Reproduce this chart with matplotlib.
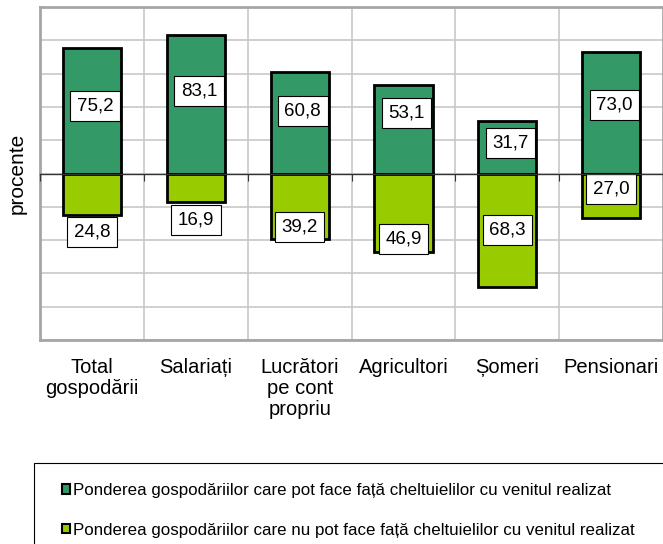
import matplotlib
matplotlib.use('Agg')
import matplotlib.pyplot as plt
from matplotlib.patches import Patch, Rectangle
import numpy as np

plt.rcParams['font.family'] = ['Liberation Sans', 'DejaVu Sans']

categories = ['Total\ngospodării', 'Salariați', 'Lucrători\npe cont\npropriu',
              'Agricultori', 'Șomeri', 'Pensionari']
can_pay = [75.2, 83.1, 60.8, 53.1, 31.7, 73.0]
cannot_pay = [24.8, 16.9, 39.2, 46.9, 68.3, 27.0]

legend_labels = ['Ponderea gospodăriilor care pot face față cheltuielilor cu venitul realizat',
                 'Ponderea gospodăriilor care nu pot face față cheltuielilor cu venitul realizat']

# where the value boxes sit (as in the original, moved by hand)
pos_label_y = [40.7, 49.7, 37.7, 36.5, 18.6, 41.3]
neg_label_y = [-35.3, -28.0, -32.0, -39.5, -34.0, -9.0]

dark = '#339966'
light = '#99cc00'

fig = plt.figure(figsize=(6.63, 5.44), dpi=100)
ax = fig.add_axes([0.0603, 0.375, 0.94, 0.612])

x = np.arange(len(categories))
ax.bar(x, can_pay, width=0.56, color=dark, edgecolor='black', linewidth=2, zorder=3)
ax.bar(x, [-v for v in cannot_pay], width=0.56, color=light, edgecolor='black', linewidth=2, zorder=3)

box = dict(boxstyle='square,pad=0.35', fc='white', ec='black', lw=0.8)
for i in range(len(categories)):
    ax.text(x[i] + 0.03, pos_label_y[i], f'{can_pay[i]:.1f}'.replace('.', ','),
            ha='center', va='center', fontsize=13.5, bbox=box, zorder=5)
    ax.text(x[i], neg_label_y[i], f'{cannot_pay[i]:.1f}'.replace('.', ','),
            ha='center', va='center', fontsize=13.5, bbox=box, zorder=5)

ax.set_xlim(-0.5, len(categories) - 0.5)
ax.set_ylim(-100, 100)
ax.set_yticks(np.arange(-100, 101, 20))
ax.set_yticklabels([])
ax.tick_params(axis='y', length=0)
ax.set_xticks(x)
ax.set_xticklabels(categories, fontsize=14.5, linespacing=1.12)
ax.tick_params(axis='x', length=0, pad=13)
ax.set_xticks(x[:-1] + 0.5, minor=True)
ax.tick_params(axis='x', which='minor', length=0)
ax.grid(axis='y', color='#c8c8c8', lw=1.2, zorder=0)
ax.grid(axis='x', which='minor', color='#c8c8c8', lw=1.2, zorder=0)
for s in ax.spines.values():
    s.set_color('#a6a6a6')
    s.set_linewidth(2)
ax.set_ylabel('procente', fontsize=15, labelpad=6)

# zero axis with category ticks
ax2 = ax.twiny()
ax2.set_xlim(ax.get_xlim())
ax2.spines['bottom'].set_position(('data', 0))
for side in ['top', 'left', 'right']:
    ax2.spines[side].set_visible(False)
ax2.spines['bottom'].set_color('#333333')
ax2.spines['bottom'].set_linewidth(1)
ax2.spines['bottom'].set_zorder(4)
ax2.xaxis.set_ticks_position('bottom')
ax2.set_xticks(np.arange(-0.5, len(categories), 1))
ax2.set_xticklabels([])
ax2.tick_params(axis='x', direction='out', length=5, color='#333333')

# legend box, running off the right and bottom edges
fig.patches.append(Rectangle((0.0513, -0.05), 1.0, 0.199, transform=fig.transFigure,
                             fill=False, edgecolor='black', linewidth=0.8))
handles = [Patch(facecolor=dark, edgecolor='black', linewidth=1.5),
           Patch(facecolor=light, edgecolor='black', linewidth=1.5)]
fig.legend(handles, legend_labels, loc='upper left',
           bbox_to_anchor=(0.0935, 0.112), borderaxespad=0, borderpad=0,
           fontsize=12.2, handlelength=0.5, handleheight=0.5,
           handletextpad=0.15, labelspacing=1.45, frameon=False)

fig.savefig('out.png', dpi=100)
